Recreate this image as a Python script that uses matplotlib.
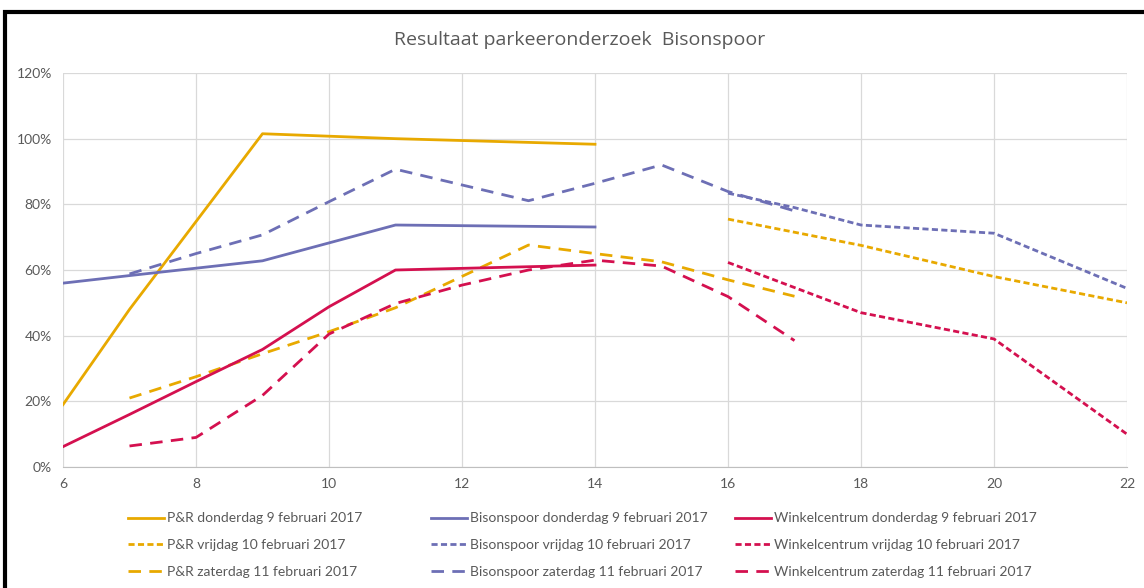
import numpy as np
import matplotlib
matplotlib.use('Agg')
import matplotlib.pyplot as plt
from matplotlib.patches import Rectangle
from matplotlib.ticker import FuncFormatter, MultipleLocator

# hours of the day and occupancy (%) per location / day
pr_do_x = [6, 7, 9, 11, 14]
pr_do_y = [19, 48, 101.5, 100, 98.3]
pr_vr_x = [16, 18, 20, 22]
pr_vr_y = [75.5, 67.5, 58, 50]
pr_za_x = [7, 8, 9, 10, 11, 13, 14, 15, 16, 17]
pr_za_y = [21, 27.5, 34.5, 41.2, 48.5, 67.6, 65, 62.5, 57, 52]

bs_do_x = [6, 7, 9, 11, 14]
bs_do_y = [56, 58.3, 62.8, 73.7, 73.1]
bs_vr_x = [16, 17, 18, 20, 22]
bs_vr_y = [83.4, 79, 73.7, 71.2, 54.4]
bs_za_x = [7, 8, 9, 10, 11, 13, 14, 15, 16, 17]
bs_za_y = [58.8, 65, 70.7, 80.8, 90.7, 81.1, 86.4, 92, 83.9, 78]

wc_do_x = [6, 7, 8, 9, 10, 11, 14]
wc_do_y = [6.2, 16, 26, 35.8, 48.8, 60, 61.5]
wc_vr_x = [16, 18, 20, 22]
wc_vr_y = [62.3, 47, 39, 10]
wc_za_x = [7, 8, 9, 10, 11, 12, 13, 14, 15, 16, 17]
wc_za_y = [6.4, 9, 21.8, 40.5, 49.8, 55.4, 60, 63, 61.2, 51.9, 38.5]

labels = [
    'P&R donderdag 9 februari 2017', 'P&R vrijdag 10 februari 2017', 'P&R zaterdag 11 februari 2017',
    'Bisonspoor donderdag 9 februari 2017', 'Bisonspoor vrijdag 10 februari 2017', 'Bisonspoor zaterdag 11 februari 2017',
    'Winkelcentrum donderdag 9 februari 2017', 'Winkelcentrum vrijdag 10 februari 2017', 'Winkelcentrum zaterdag 11 februari 2017',
]

yellow = '#E8A900'
blue = '#6D6FB5'
red = '#D4104F'

series = [
    (pr_do_x, pr_do_y, yellow, 'do'), (pr_vr_x, pr_vr_y, yellow, 'vr'), (pr_za_x, pr_za_y, yellow, 'za'),
    (bs_do_x, bs_do_y, blue, 'do'), (bs_vr_x, bs_vr_y, blue, 'vr'), (bs_za_x, bs_za_y, blue, 'za'),
    (wc_do_x, wc_do_y, red, 'do'), (wc_vr_x, wc_vr_y, red, 'vr'), (wc_za_x, wc_za_y, red, 'za'),
]

plt.rcParams['font.family'] = ['Lato', 'DejaVu Sans']

fig = plt.figure(figsize=(11.44, 5.88), dpi=100)
ax = fig.add_axes([63 / 1144, 1 - 467 / 588, (1127 - 63) / 1144, (467 - 73) / 588])

lines = []
for (x, y, c, day), lab in zip(series, labels):
    if day == 'do':
        ln, = ax.plot(x, y, color=c, lw=2, solid_joinstyle='round', label=lab)
    elif day == 'vr':
        ln, = ax.plot(x, y, color=c, lw=2, dashes=(2.2, 1.2), label=lab)
    else:
        ln, = ax.plot(x, y, color=c, lw=2, dashes=(4.5, 3), label=lab)
    lines.append(ln)

ax.set_xlim(6, 22)
ax.set_ylim(0, 120)
ax.xaxis.set_major_locator(MultipleLocator(2))
ax.yaxis.set_major_locator(MultipleLocator(20))
ax.yaxis.set_major_formatter(FuncFormatter(lambda v, p: '%d%%' % v))
ax.grid(True, color='#D9D9D9', lw=0.9)
ax.set_axisbelow(True)
for s in ['top', 'right', 'left']:
    ax.spines[s].set_visible(False)
ax.spines['bottom'].set_color('#BFBFBF')
ax.tick_params(length=0, colors='#595959', labelsize=10, pad=8)

fig.text(580 / 1144, 1 - 40 / 588, 'Resultaat parkeeronderzoek  Bisonspoor',
         ha='center', va='center', fontsize=14, color='#595959', family='Open Sans')

# one legend per column, placed like the Excel legend grid
col_x = [128, 431, 735]
for i, cx in enumerate(col_x):
    leg = fig.legend(lines[3 * i:3 * i + 3], labels[3 * i:3 * i + 3], loc='center left',
                     bbox_to_anchor=(cx / 1144, 1 - 545 / 588), frameon=False,
                     fontsize=10, handlelength=2.6, handletextpad=0.2,
                     labelspacing=1.05, borderpad=0, borderaxespad=0)
    for t in leg.get_texts():
        t.set_color('#595959')

# outer frame of the original screenshot
fig.patches.append(Rectangle((5 / 1144, -0.1), 1.2, 1.1 - 12 / 588, transform=fig.transFigure,
                             fill=False, edgecolor='black', lw=3))

fig.savefig('out.png', dpi=100)
